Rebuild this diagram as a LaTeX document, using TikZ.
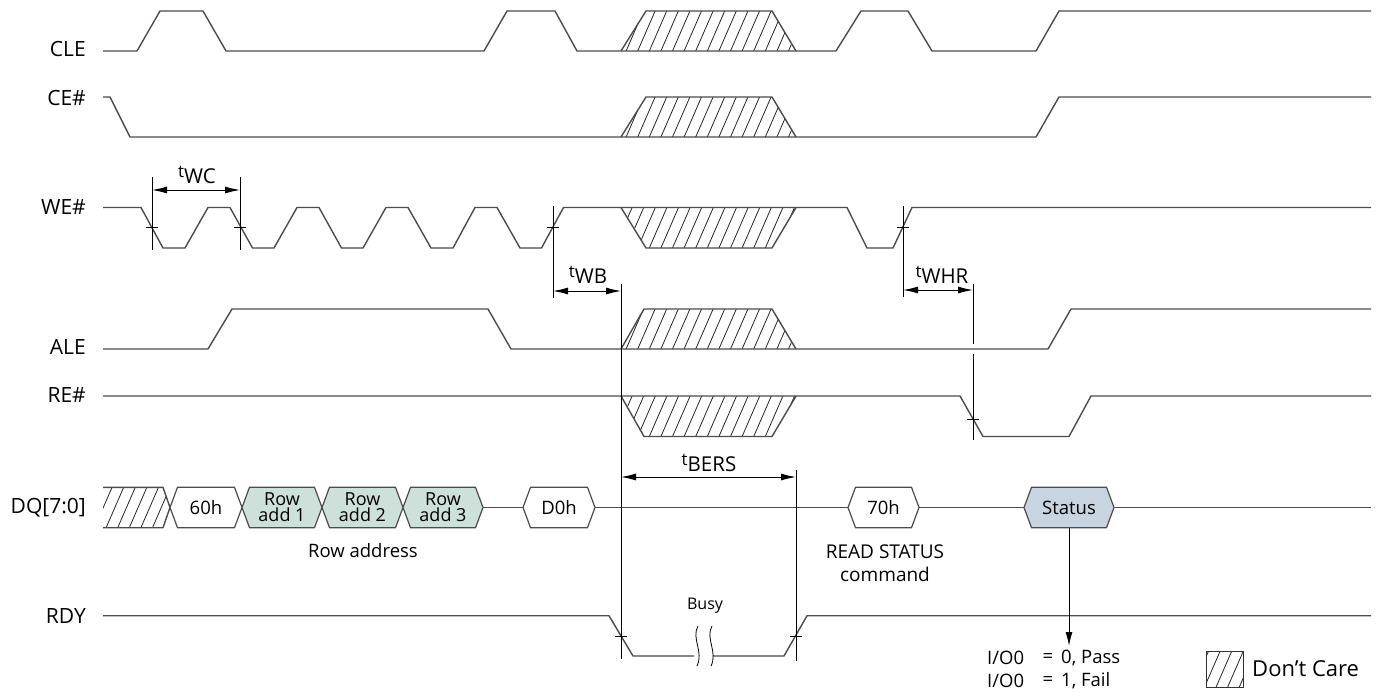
\documentclass[tikz,border=0pt]{standalone}
\usepackage{fontspec}
\setmainfont{Open Sans}
\usetikzlibrary{arrows.meta}
\newcommand\hatchin[3]{%
  \begin{scope}\clip #1;
    \foreach \i in {0,...,24}{\draw[hatchl] (#3+\i*11.6,#2+3) -- ++(20,-46);}
  \end{scope}}
\newcommand\marktick[2]{\draw[dimline] (#1-6,#2) -- (#1+6,#2);}
\newcommand\tlab[1]{\raisebox{6pt}{\fontsize{17}{17}\selectfont t}\fontsize{20.5}{20.5}\selectfont #1}
\newcommand\hexcell[6]{%
  \filldraw[fill=#3,draw=black!70,line width=1.2pt,line join=round]
    (#1,507.5) -- (#1+7.5,487.3) -- (#2-7.5,487.3) -- (#2,507.5) -- (#2-7.5,527.7) -- (#1+7.5,527.7) -- cycle;
  \node[cell,minimum width={#2-#1},font=#6] (#4) at ({(#1+#2)/2},507.5) {#5};}
\begin{document}
\begin{tikzpicture}[x=1pt,y=-1pt,
  sig/.style={draw=black!70,line width=1.4pt,line join=round},
  dimline/.style={draw=black,line width=1pt},
  dimarr/.style={dimline,{Latex[length=15pt,width=7pt]}-{Latex[length=15pt,width=7pt]}},
  hatchl/.style={draw=black!85,line width=0.8pt},
  lbl/.style={font=\fontsize{21}{21}\selectfont,anchor=east,inner sep=0pt},
  txt/.style={font=\fontsize{18.5}{18.5}\selectfont,inner sep=0pt},
  cell/.style={inner sep=0pt,minimum height=40.4pt,align=center},
]
\useasboundingbox (0,0) rectangle (1378,693);
\colorlet{rowfill}{rgb,255:red,206;green,224;blue,218}
\colorlet{stfill}{rgb,255:red,200;green,212;blue,224}

% signal labels
\node[lbl] (lcle) at (86,48.5) {CLE};
\node[lbl] (lce) at (86,97.5) {CE\#};
\node[lbl] (lwe) at (86,207.5) {WE\#};
\node[lbl] (lale) at (86,347) {ALE};
\node[lbl] (lre) at (86,395) {RE\#};
\node[lbl] (ldq) at (86,507.5) {DQ[7:0]};
\node[lbl] (lrdy) at (86,615.5) {RDY};

% CLE
\hatchin{(621,51) -- (646,11) -- (772,11) -- (796,51) -- cycle}{51}{590}
\draw[sig] (103,51) -- (137,51) -- (160,11) -- (203,11) -- (226,51) -- (484,51) -- (507,11) -- (555,11) -- (577,51) -- (836,51) -- (861,11) -- (908,11) -- (932,51) -- (1036,51) -- (1059,11) -- (1371,11);
\draw[sig] (621,51) -- (646,11) -- (772,11) -- (796,51);

% CE#
\hatchin{(621,137) -- (646,97) -- (772,97) -- (796,137) -- cycle}{137}{590}
\draw[sig] (103,97) -- (110,97) -- (130,137) -- (1036,137) -- (1059,97) -- (1371,97);
\draw[sig] (621,137) -- (646,97) -- (772,97) -- (796,137);

% WE#
\hatchin{(621,207.5) -- (796,207.5) -- (772,248) -- (646,248) -- cycle}{248}{590}
\draw[sig] (103,207.5) -- (141,207.5) -- (163,248) -- (185,248) -- (208,207.5) -- (230,207.5) -- (252.5,248) -- (274,248) -- (297,207.5) -- (319,207.5) -- (341.5,248) -- (363,248) -- (386,207.5) -- (408,207.5) -- (431,248) -- (453,248) -- (475,207.5) -- (497,207.5) -- (520,248) -- (541.5,248) -- (563.5,207.5) -- (847,207.5) -- (867,248) -- (893,248) -- (912,207.5) -- (1371,207.5);
\draw[sig] (621,207.5) -- (646,248) -- (772,248) -- (796,207.5);

% ALE
\hatchin{(621,349) -- (644,309) -- (772,309) -- (796,349) -- cycle}{349}{590}
\draw[sig] (103,349) -- (208,349) -- (232,309) -- (488,309) -- (511,349) -- (1048,349) -- (1071,309) -- (1371,309);
\draw[sig] (621,349) -- (644,309) -- (772,309) -- (796,349);

% RE#
\hatchin{(621,396) -- (796,396) -- (772,436.5) -- (644,436.5) -- cycle}{436.5}{590}
\draw[sig] (103,396) -- (960,396) -- (983,436.5) -- (1069,436.5) -- (1091,396) -- (1371,396);
\draw[sig] (621,396) -- (644,436.5) -- (772,436.5) -- (796,396);

% DQ
\hatchin{(103,487.3) -- (163,487.3) -- (170,507.5) -- (163,527.7) -- (103,527.7) -- cycle}{527.7}{70}
\draw[sig] (103,487.3) -- (163,487.3) -- (170,507.5) -- (163,527.7) -- (103,527.7);
\hexcell{170}{242}{white}{c60}{60h}{\fontsize{18.5}{18.5}\selectfont}
\hexcell{242}{322}{rowfill}{ra1}{Row\\add 1}{\fontsize{18}{16}\selectfont}
\hexcell{322}{403}{rowfill}{ra2}{Row\\add 2}{\fontsize{18}{16}\selectfont}
\hexcell{403}{483}{rowfill}{ra3}{Row\\add 3}{\fontsize{18}{16}\selectfont}
\hexcell{523}{595}{white}{cd0}{D0h}{\fontsize{18.5}{18.5}\selectfont}
\hexcell{848}{919}{white}{c70}{70h}{\fontsize{18.5}{18.5}\selectfont}
\hexcell{1024}{1114}{stfill}{st}{Status}{\fontsize{18.5}{18.5}\selectfont}
\coordinate (dqend) at (1371,507.5);
\draw[sig] (ra3.east) -- (cd0.west);
\draw[sig] (cd0.east) -- (c70.west);
\draw[sig] (c70.east) -- (st.west);
\draw[sig] (st.east) -- (dqend);
\node[txt] (rowaddr) at (363,551) {Row address};
\node[txt,align=center,font=\fontsize{19}{23.5}\selectfont] (rsc) at (885,563) {READ STATUS\\command};

% RDY
\draw[sig] (103,615.7) -- (609,615.7) -- (633,656) -- (694,656);
\draw[sig] (713,656) -- (784,656) -- (807,615.7) -- (1371,615.7);
\draw[dimline,line width=0.8pt] (698,626) .. controls (691,638) and (704,652) .. (697,666);
\draw[dimline,line width=0.8pt] (712,626) .. controls (705,638) and (718,652) .. (711,666);
\node[txt,font=\fontsize{16}{16}\selectfont] (busy) at (705,606) {Busy};

% tWC
\coordinate (wc1t) at (152,177); \coordinate (wc1b) at (152,250);
\coordinate (wc2t) at (240,177); \coordinate (wc2b) at (240,250);
\draw[dimline] (wc1t) -- (wc1b);
\draw[dimline] (wc2t) -- (wc2b);
\coordinate (wca) at (152,190); \coordinate (wcb) at (240,190);
\draw[dimarr] (wca) -- (wcb);
\marktick{152}{227.7}
\marktick{240}{227.7}
\node[inner sep=0pt] (twc) at (197,175) {\tlab{WC}};

% tWB
\coordinate (wb1t) at (553,206); \coordinate (wb1b) at (553,298);
\draw[dimline] (wb1t) -- (wb1b);
\coordinate (v621t) at (621,284); \coordinate (v621b) at (621,659);
\draw[dimline] (v621t) -- (v621b);
\coordinate (wba) at (553,291); \coordinate (wbb) at (621,291);
\draw[dimarr] (wba) -- (wbb);
\marktick{553}{227.7}
\node[inner sep=0pt] (twb) at (588,275) {\tlab{WB}};

% tWHR
\coordinate (wh1t) at (903,206); \coordinate (wh1b) at (903,297);
\draw[dimline] (wh1t) -- (wh1b);
\coordinate (v973a) at (973,284); \coordinate (v973b) at (973,344);
\coordinate (v973c) at (973,354); \coordinate (v973d) at (973,440);
\draw[dimline] (v973a) -- (v973b);
\draw[dimline] (v973c) -- (v973d);
\coordinate (wha) at (903,290); \coordinate (whb) at (973,290);
\draw[dimarr] (wha) -- (whb);
\marktick{903}{227.7}
\marktick{973}{419}
\node[inner sep=0pt] (twhr) at (942,275) {\tlab{WHR}};

% tBERS
\coordinate (v796t) at (796,470); \coordinate (v796b) at (796,661);
\draw[dimline] (v796t) -- (v796b);
\coordinate (bea) at (621,477); \coordinate (beb) at (796,477);
\draw[dimarr] (bea) -- (beb);
\marktick{621}{636}
\marktick{796}{636}
\node[inner sep=0pt] (tbers) at (709,463) {\tlab{BERS}};

% status arrow and result
\coordinate (stend) at (1069,646);
\draw[dimline,-{Latex[length=14pt,width=7pt]}] (st.south) -- (stend);
\node[txt,anchor=west] (io1a) at (987,658) {I/O0};
\node[txt] (io1b) at (1048,658) {=};
\node[txt,anchor=west] (io1c) at (1061,658) {0, Pass};
\node[txt,anchor=west] (io2a) at (987,681) {I/O0};
\node[txt] (io2b) at (1048,681) {=};
\node[txt,anchor=west] (io2c) at (1061,681) {1, Fail};

% legend
\hatchin{(1206,651) rectangle (1243,687)}{687}{1180}
\draw[draw=black!80,line width=1pt] (1206,651) rectangle (1243,687);
\node[txt,anchor=west,font=\fontsize{22}{22}\selectfont] (dc) at (1252,669) {Don’t Care};
\end{tikzpicture}
\end{document}
